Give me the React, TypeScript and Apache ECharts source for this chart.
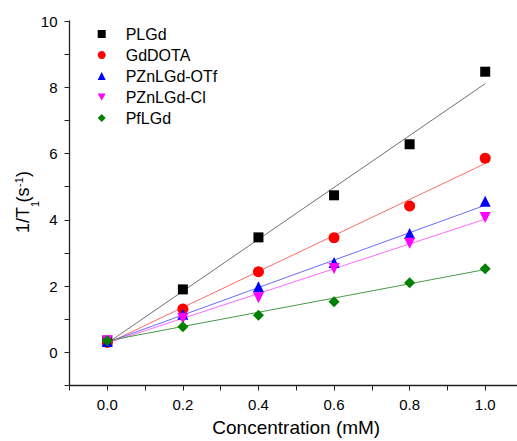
import React, { useEffect, useRef } from "react";
import * as echarts from "echarts";

const concentration = [0, 0.2, 0.4, 0.6, 0.8, 1.0];
const seriesNames = ["PLGd", "GdDOTA", "PZnLGd-OTf", "PZnLGd-Cl", "PfLGd"];
const plgd = [0.35, 1.9, 3.47, 4.74, 6.28, 8.47];
const gddota = [0.3, 1.31, 2.43, 3.46, 4.42, 5.86];
const pznOTf = [0.33, 1.15, 1.98, 2.71, 3.59, 4.56];
const pznCl = [0.35, 1.02, 1.65, 2.53, 3.29, 4.07];
const pflgd = [0.35, 0.77, 1.12, 1.53, 2.1, 2.52];

const fitX = [0, 1.0];
const fitPLGd = [0.28, 8.11];
const fitGdDOTA = [0.27, 5.7];
const fitOTf = [0.3, 4.44];
const fitCl = [0.28, 4.02];
const fitPfLGd = [0.35, 2.5];

const markerColors = ["#000000", "#ff0000", "#0000ff", "#ff00ff", "#008000"];
const lineColors = ["#707070", "#ff6a6a", "#6a6aff", "#ff6aff", "#4a9a4a"];
const symbols = [
  "rect",
  "circle",
  "triangle",
  "path://M0,0 L10,0 L5,9 Z",
  "diamond",
];
const symbolSizes = [10, 11, 11, 11, 11];

export default function App() {
  const ref = useRef<HTMLDivElement>(null);
  useEffect(() => {
    if (!ref.current) return;
    const chart = echarts.init(ref.current, null, { renderer: "svg" });
    const values = [plgd, gddota, pznOTf, pznCl, pflgd];
    const fits = [fitPLGd, fitGdDOTA, fitOTf, fitCl, fitPfLGd];
    const font = "'Liberation Sans', Arial, sans-serif";
    const fitSeries = fits.map((f, i) => ({
      name: seriesNames[i] + " fit",
      type: "line",
      data: fitX.map((x, j) => [x, f[j]]),
      showSymbol: false,
      symbol: "none",
      lineStyle: { color: lineColors[i], width: 1 },
      z: 2,
      silent: true,
    }));
    const scatterSeries = values.map((v, i) => ({
      name: seriesNames[i],
      type: "scatter",
      data: concentration.map((x, j) => [x, v[j]]),
      symbol: symbols[i],
      symbolSize: symbolSizes[i],
      itemStyle: { color: markerColors[i], opacity: 1 },
      z: 3,
    }));
    const txt = (text: string, x: number, y: number, size: number) => ({
      type: "text",
      x,
      y,
      style: {
        text,
        fontFamily: font,
        fontSize: size,
        fill: "#000",
        align: "left",
        verticalAlign: "middle",
      },
    });
    chart.setOption({
      animation: false,
      backgroundColor: "#ffffff",
      textStyle: { fontFamily: font },
      grid: {
        left: 69.5,
        top: 21,
        width: 453.5,
        height: 364.5,
        containLabel: false,
        outerBoundsMode: "none",
      },
      legend: {
        data: seriesNames,
        orient: "vertical",
        left: 97.7,
        top: 26,
        padding: 0,
        itemWidth: 8,
        itemHeight: 8,
        itemGap: 5,
        symbolKeepAspect: true,
        textStyle: {
          fontFamily: font,
          fontSize: 16,
          color: "#000",
          lineHeight: 16,
          padding: [0, 0, 0, 15],
        },
      },
      xAxis: {
        type: "value",
        min: -0.1,
        max: 1.1,
        interval: 0.1,
        name: "Concentration (mM)",
        nameLocation: "middle",
        nameGap: 32,
        nameTextStyle: { fontFamily: font, fontSize: 19, color: "#000" },
        splitLine: { show: false },
        axisLine: { onZero: false, lineStyle: { color: "#222", width: 1.3 } },
        axisTick: { show: true, length: 5, lineStyle: { color: "#222", width: 1 } },
        axisLabel: {
          fontFamily: font,
          fontSize: 15,
          color: "#000",
          margin: 11,
          showMinLabel: true,
          showMaxLabel: true,
          formatter: (v: number) => {
            const k = Math.round(v * 10);
            return k >= 0 && k % 2 === 0 ? (k / 10).toFixed(1) : "";
          },
        },
      },
      yAxis: {
        type: "value",
        min: -1,
        max: 10,
        interval: 1,
        splitLine: { show: false },
        axisLine: { onZero: false, lineStyle: { color: "#222", width: 1.3 } },
        axisTick: { show: true, length: 5, lineStyle: { color: "#222", width: 1 } },
        axisLabel: {
          fontFamily: font,
          fontSize: 15,
          color: "#000",
          margin: 12,
          formatter: (v: number) => {
            const k = Math.round(v);
            return k >= 0 && k % 2 === 0 ? String(k) : "";
          },
        },
      },
      graphic: [
        {
          type: "group",
          x: 29.3,
          y: 203,
          rotation: Math.PI / 2,
          children: [
            txt("1/T", -30, -6.2, 18),
            txt("1", -4, 5.2, 11),
            txt("(s", 0.5, -6.2, 18),
            txt("-1", 16, -10.3, 11),
            txt(")", 26, -6.2, 18),
          ],
        },
      ],
      series: [...fitSeries, ...scatterSeries],
    });
    return () => chart.dispose();
  }, []);
  return (
    <div
      style={{
        position: "fixed",
        left: 0,
        top: 0,
        width: 517,
        height: 441,
        overflow: "hidden",
        background: "#fff",
      }}
    >
      <div ref={ref} style={{ width: 530, height: 441 }} />
    </div>
  );
}
